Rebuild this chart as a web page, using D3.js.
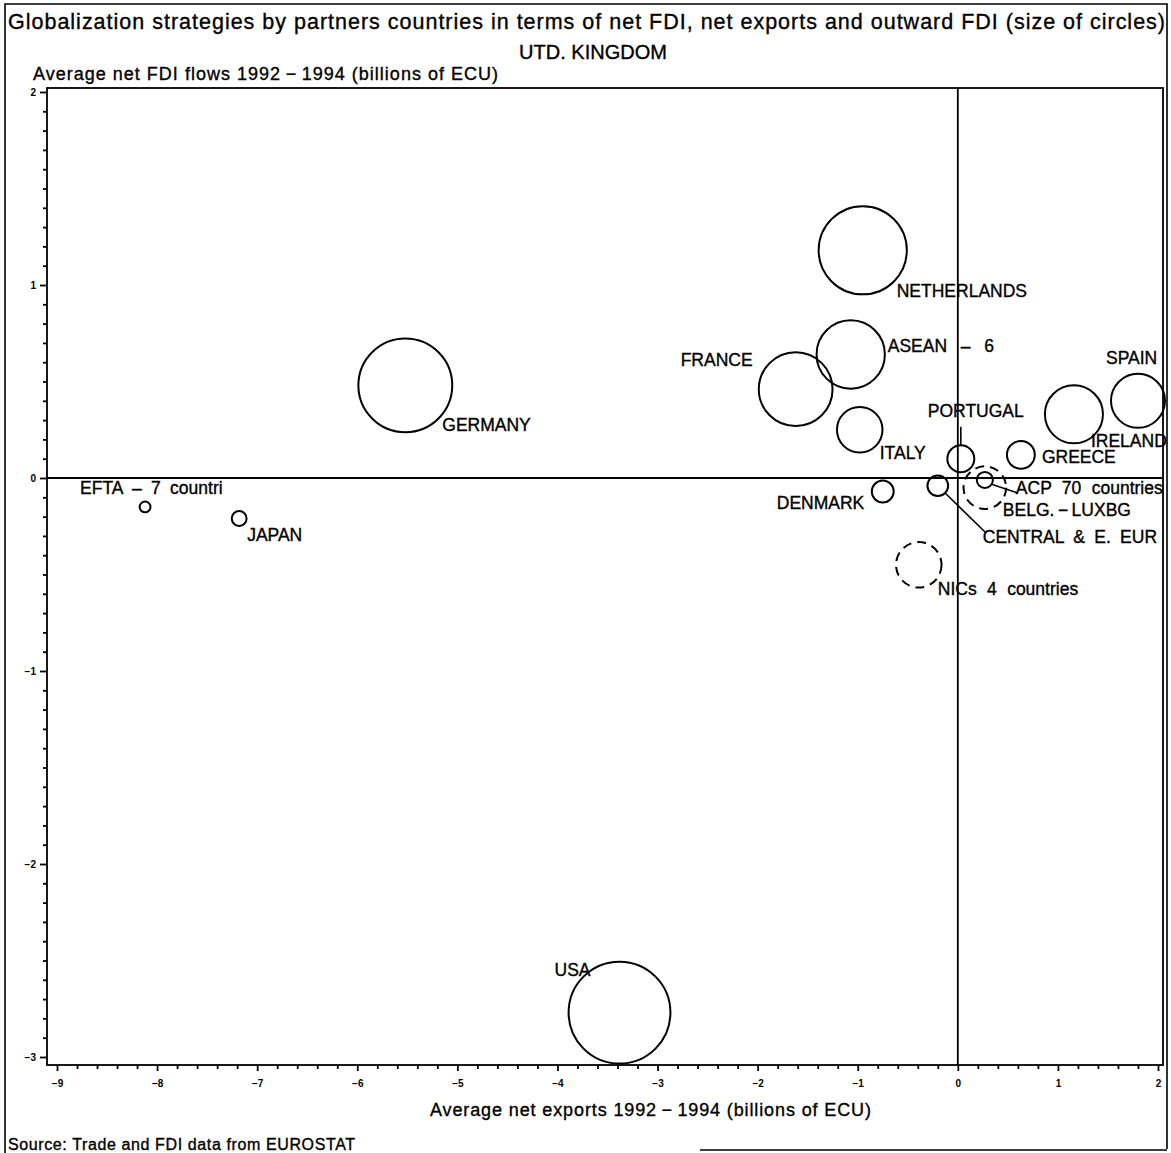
<!DOCTYPE html>
<html>
<head>
<meta charset="utf-8">
<script src="https://cdn.jsdelivr.net/npm/d3@7"></script>
<style>
  html, body { margin: 0; padding: 0; background: #fff; }
  svg { display: block; }
  text { font-family: "Liberation Sans", Arial, Helvetica, sans-serif; fill: #000; }
  .heavy { stroke: #000; stroke-width: 0.35px; }
</style>
</head>
<body>
<svg id="chart" width="1171" height="1153"></svg>
<script>
// Partner countries / regions of the United Kingdom
const partners = [
  "NETHERLANDS", "ASEAN - 6", "FRANCE", "ITALY", "GERMANY", "SPAIN", "IRELAND",
  "PORTUGAL", "GREECE", "ACP 70 countries", "BELG.-LUXBG", "CENTRAL & E. EUR",
  "DENMARK", "NICs 4 countries", "EFTA - 7 countri", "JAPAN", "USA"
];
// Average net exports 1992-1994 (billions of ECU)
const netExports = [
  -0.95, -1.07, -1.62, -0.98, -5.52, 1.80, 1.16,
  0.03, 0.63, 0.27, 0.27, -0.20,
  -0.75, -0.39, -8.12, -7.18, -3.38
];
// Average net FDI flows 1992-1994 (billions of ECU)
const netFdi = [
  1.18, 0.64, 0.46, 0.25, 0.48, 0.40, 0.33,
  0.10, 0.12, -0.01, -0.05, -0.04,
  -0.07, -0.45, -0.15, -0.21, -2.77
];
// Outward FDI (circle size); negative values are drawn dashed
const outwardFdi = [
  6.0, 3.6, 4.2, 1.6, 6.8, 2.25, 2.6,
  0.56, 0.6, 0.2, -1.4, 0.33,
  0.37, -1.6, 0.09, 0.17, 8.0
];
const xTicks = [-9, -8, -7, -6, -5, -4, -3, -2, -1, 0, 1, 2];
const yTicks = [-3, -2, -1, 0, 1, 2];

// Label placement relative to each circle centre (px), plus optional leader lines
const labelLayout = {
  "NETHERLANDS":      { dx: 34,  dy: 47,  text: "NETHERLANDS" },
  "ASEAN - 6":        { dx: 37,  dy: -2,  text: "ASEAN  \u2013  6", ws: 2 },
  "FRANCE":           { dx: -115, dy: -23, text: "FRANCE" },
  "ITALY":            { dx: 20,  dy: 29,  text: "ITALY" },
  "GERMANY":          { dx: 37,  dy: 46,  text: "GERMANY" },
  "SPAIN":            { dx: -32, dy: -37, text: "SPAIN" },
  "IRELAND":          { dx: 17,  dy: 33,  text: "IRELAND" },
  "PORTUGAL":         { dx: -33, dy: -42, text: "PORTUGAL", leader: [[0, -32], [0, -14]] },
  "GREECE":           { dx: 21,  dy: 8,   text: "GREECE" },
  "ACP 70 countries": { dx: 31,  dy: 14,  text: "ACP 70 countries", leader: [[6, 4], [33, 13]] },
  "BELG.-LUXBG":      { dx: 18,  dy: 28,  text: "BELG.\u2009\u2212\u2009LUXBG" },
  "CENTRAL & E. EUR": { dx: 45,  dy: 57,  text: "CENTRAL & E. EUR", leader: [[7, 7], [48, 47]], ws: 4.5 },
  "DENMARK":          { dx: -106, dy: 17, text: "DENMARK" },
  "NICs 4 countries": { dx: 19,  dy: 30,  text: "NICs 4 countries" },
  "EFTA - 7 countri": { dx: -65, dy: -13, text: "EFTA \u2013 7 countri", ws: 4.5 },
  "JAPAN":            { dx: 8,   dy: 22,  text: "JAPAN" },
  "USA":              { dx: -65, dy: -37, text: "USA" }
};

const svg = d3.select("#chart");

// Outer frame
svg.append("path")
  .attr("d", "M5,1153 L5,4 L1167,4 L1167,1149 M700,1150 L1167,1150")
  .attr("fill", "none").attr("stroke", "#000").attr("stroke-width", 1.6);

// Titles
function addText(x, y, size, str, width, anchor) {
  const t = svg.append("text").attr("class", "heavy")
    .attr("x", x).attr("y", y).attr("font-size", size)
    .attr("text-anchor", anchor || "start").text(str);
  if (width) t.attr("textLength", width).attr("lengthAdjust", "spacing");
  return t;
}
addText(8, 29, 21.5,
  "Globalization strategies by partners countries in terms of net FDI, net exports and outward FDI (size of circles)", 1157);
addText(593, 59, 20, "UTD. KINGDOM", null, "middle");
addText(33, 80, 18, "Average net FDI flows 1992\u2009\u2212\u20091994 (billions of ECU)", 465);
addText(430, 1116, 18, "Average net exports 1992\u2009\u2212\u20091994 (billions of ECU)", 441);
addText(8, 1150, 16, "Source: Trade and FDI data from EUROSTAT", 347);

// Scales
const x = d3.scaleLinear().domain([-9, 2]).range([57, 1158]);
const y = d3.scaleLinear().domain([-3, 2]).range([1057, 92]);
const r = d3.scaleSqrt().domain([0, 1]).range([0, 18]);

const plot = { left: 47, right: 1163, top: 88, bottom: 1065 };

// Plot box
svg.append("rect")
  .attr("x", plot.left).attr("y", plot.top)
  .attr("width", plot.right - plot.left).attr("height", plot.bottom - plot.top)
  .attr("fill", "none").attr("stroke", "#000").attr("stroke-width", 1.8);

// Minor ticks
const yMinor = d3.range(-30, 21).map(v => v / 10).filter(v => !yTicks.includes(v));
const xMinor = d3.range(-45, 11).map(v => v / 5).filter(v => !xTicks.includes(v));

const fmt = d => d < 0 ? "\u2212" + Math.abs(d) : d;
const yAxisMinor = d3.axisLeft(y).tickValues(yMinor).tickSize(4).tickFormat("");
const yAxisMajor = d3.axisLeft(y).tickValues(yTicks).tickSize(7).tickPadding(4).tickFormat(fmt);
const xAxisMinor = d3.axisBottom(x).tickValues(xMinor).tickSize(4).tickFormat("");
const xAxisMajor = d3.axisBottom(x).tickValues(xTicks).tickSize(6).tickPadding(9).tickFormat(fmt);

function styleAxis(g) {
  g.select(".domain").remove();
  g.selectAll(".tick line").attr("stroke", "#000").attr("stroke-width", 1.8);
  g.selectAll(".tick text").attr("font-size", 10).attr("font-weight", "bold")
    .attr("font-family", "'Liberation Sans', Arial, sans-serif").attr("fill", "#000");
}
svg.append("g").attr("transform", `translate(${plot.left},0)`).call(yAxisMinor).call(styleAxis);
svg.append("g").attr("transform", `translate(${plot.left},0)`).call(yAxisMajor).call(styleAxis);
svg.append("g").attr("transform", `translate(0,${plot.bottom})`).call(xAxisMinor).call(styleAxis);
svg.append("g").attr("transform", `translate(0,${plot.bottom})`).call(xAxisMajor).call(styleAxis);

// Reference lines at zero
svg.append("line").attr("x1", plot.left).attr("x2", plot.right)
  .attr("y1", y(0)).attr("y2", y(0)).attr("stroke", "#000").attr("stroke-width", 1.8);
svg.append("line").attr("x1", x(0)).attr("x2", x(0))
  .attr("y1", plot.top).attr("y2", plot.bottom).attr("stroke", "#000").attr("stroke-width", 1.8);

// Bubbles
const rows = partners.map((name, i) => ({
  name, ex: netExports[i], fdi: netFdi[i], out: outwardFdi[i]
}));

const g = svg.append("g");
g.selectAll("circle").data(rows).join("circle")
  .attr("cx", d => x(d.ex)).attr("cy", d => y(d.fdi))
  .attr("r", d => r(Math.abs(d.out)))
  .attr("fill", "none").attr("stroke", "#000").attr("stroke-width", 2)
  .attr("stroke-dasharray", d => d.out < 0 ? "9,6" : null);

// Leader lines
rows.filter(d => labelLayout[d.name].leader).forEach(d => {
  const L = labelLayout[d.name].leader;
  g.append("line")
    .attr("x1", x(d.ex) + L[0][0]).attr("y1", y(d.fdi) + L[0][1])
    .attr("x2", x(d.ex) + L[1][0]).attr("y2", y(d.fdi) + L[1][1])
    .attr("stroke", "#000").attr("stroke-width", 1.6);
});

// Labels
g.selectAll("text.lbl").data(rows).join("text")
  .attr("class", "lbl heavy")
  .attr("x", d => x(d.ex) + labelLayout[d.name].dx)
  .attr("y", d => y(d.fdi) + labelLayout[d.name].dy)
  .attr("font-size", 17.5)
  .style("white-space", "pre")
  .style("word-spacing", d => (labelLayout[d.name].ws ?? 5.5) + "px")
  .text(d => labelLayout[d.name].text);
</script>
</body>
</html>
